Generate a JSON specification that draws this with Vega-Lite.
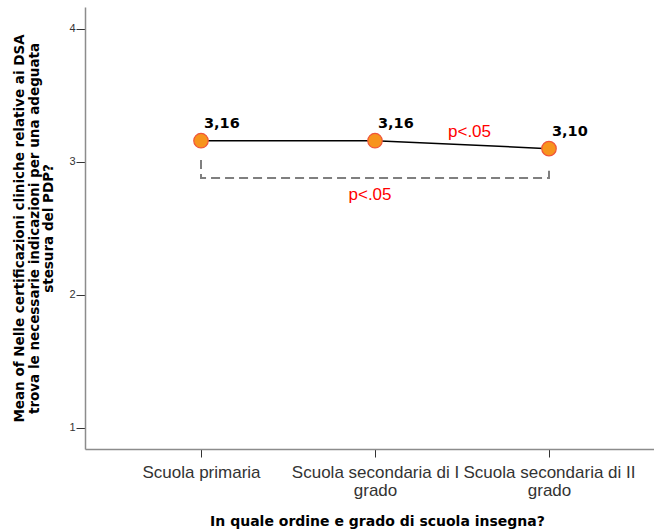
{
  "$schema": "https://vega.github.io/schema/vega-lite/v6.json",
  "autosize": "none",
  "padding": {"left": 85, "top": 7, "right": 0, "bottom": 82},
  "width": 580,
  "height": 442,
  "background": "white",
  "config": {"view": {"stroke": null}},
  "datasets": {
    "means": [
      {"scuola": "Scuola primaria", "mean": 3.16, "label": "3,16"},
      {"scuola": "Scuola secondaria di I grado", "mean": 3.16, "label": "3,16"},
      {"scuola": "Scuola secondaria di II grado", "mean": 3.10, "label": "3,10"}
    ],
    "bracket": [
      {"scuola": "Scuola primaria", "y": 3.015, "o": 1},
      {"scuola": "Scuola primaria", "y": 2.88, "o": 2},
      {"scuola": "Scuola secondaria di II grado", "y": 2.88, "o": 3},
      {"scuola": "Scuola secondaria di II grado", "y": 2.94, "o": 4}
    ],
    "sig": [
      {"scuola": "Scuola secondaria di I grado", "y": 3.19, "t": "p<.05", "pos": "upper"},
      {"scuola": "Scuola secondaria di I grado", "y": 2.715, "t": "p<.05", "pos": "lower"}
    ]
  },
  "encoding": {
    "x": {
      "field": "scuola",
      "type": "ordinal",
      "scale": {
        "type": "point",
        "padding": 0.6667,
        "domain": ["Scuola primaria", "Scuola secondaria di I grado", "Scuola secondaria di II grado"]
      },
      "axis": {
        "title": "In quale ordine e grado di scuola insegna?",
        "titleFont": "DejaVu Sans",
        "titleFontSize": 14,
        "titleFontWeight": "bold",
        "titleColor": "#000000",
        "titlePadding": 16,
        "titleX": 292,
        "titleAlign": "center",
        "labelAngle": 0,
        "labelFont": "Liberation Sans",
        "labelFontSize": 17,
        "labelColor": "#333333",
        "labelPadding": 7,
        "labelLineHeight": 18,
        "labelExpr": "split(replace(datum.label, ' grado', '|grado'), '|')",
        "tickSize": 8,
        "tickColor": "#333333",
        "domainColor": "#8c8c8c",
        "domainWidth": 1.5,
        "grid": false
      }
    }
  },
  "layer": [
    {
      "data": {"name": "bracket"},
      "mark": {"type": "line", "color": "#7f7f7f", "strokeWidth": 2, "strokeDash": [9, 5]},
      "encoding": {
        "y": {"field": "y", "type": "quantitative"},
        "order": {"field": "o", "type": "quantitative"}
      }
    },
    {
      "data": {"name": "means"},
      "mark": {"type": "line", "color": "#000000", "strokeWidth": 1.5},
      "encoding": {
        "y": {
          "field": "mean",
          "type": "quantitative",
          "scale": {"domain": [0.842, 4.165], "nice": false, "zero": false},
          "axis": {
            "title": ["Mean of Nelle certificazioni cliniche relative ai DSA", "trova le necessarie indicazioni per una adeguata", "stesura del PDP?"],
            "titleFont": "DejaVu Sans",
            "titleFontSize": 13.5,
            "titleFontWeight": "bold",
            "titleColor": "#000000",
            "titleLineHeight": 14.5,
            "titlePadding": 13,
            "values": [1, 2, 3, 4],
            "format": "d",
            "labelFont": "Liberation Sans",
            "labelFontSize": 11,
            "labelColor": "#333333",
            "labelPadding": 1,
            "tickSize": 9,
            "tickColor": "#333333",
            "domainColor": "#8c8c8c",
            "domainWidth": 1.5,
            "grid": false
          }
        }
      }
    },
    {
      "data": {"name": "means"},
      "mark": {"type": "point", "filled": true, "size": 210, "fill": "#F7941D", "stroke": "#F0553A", "strokeWidth": 1.2, "opacity": 1},
      "encoding": {
        "y": {"field": "mean", "type": "quantitative"}
      }
    },
    {
      "data": {"name": "means"},
      "mark": {"type": "text", "align": "left", "baseline": "alphabetic", "dx": 3, "dy": -13, "font": "DejaVu Sans", "fontSize": 14.5, "fontWeight": "bold", "color": "#000000"},
      "encoding": {
        "y": {"field": "mean", "type": "quantitative"},
        "text": {"field": "label"}
      }
    },
    {
      "data": {"name": "sig"},
      "transform": [{"filter": "datum.pos == 'upper'"}],
      "mark": {"type": "text", "align": "left", "baseline": "alphabetic", "dx": 73, "font": "Liberation Sans", "fontSize": 17, "color": "#FF0000"},
      "encoding": {
        "y": {"field": "y", "type": "quantitative"},
        "text": {"field": "t"}
      }
    },
    {
      "data": {"name": "sig"},
      "transform": [{"filter": "datum.pos == 'lower'"}],
      "mark": {"type": "text", "align": "center", "baseline": "alphabetic", "dx": -5, "font": "Liberation Sans", "fontSize": 17, "color": "#FF0000"},
      "encoding": {
        "y": {"field": "y", "type": "quantitative"},
        "text": {"field": "t"}
      }
    }
  ]
}
